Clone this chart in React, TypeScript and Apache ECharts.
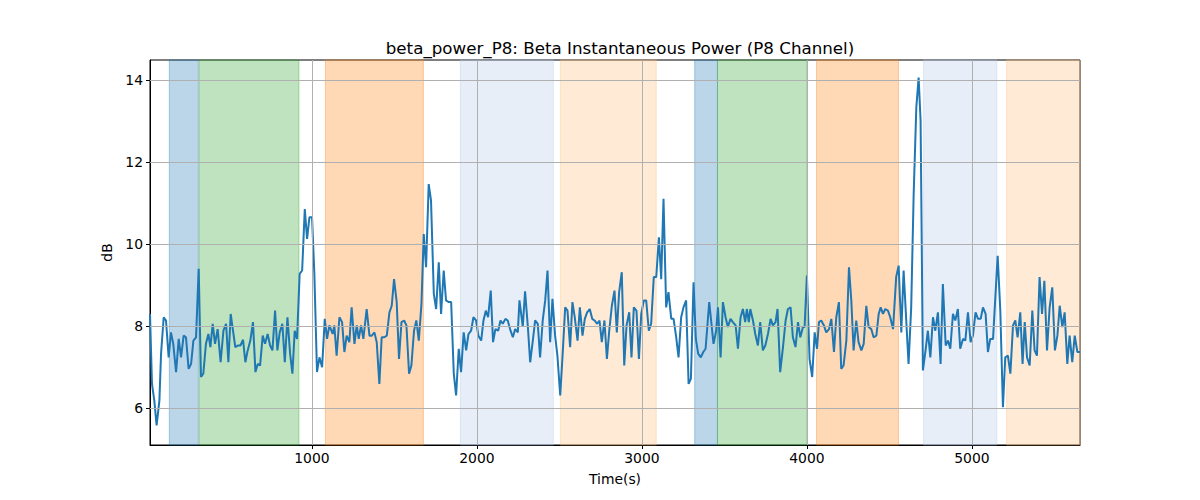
import React, { useEffect, useRef } from "react";
import * as echarts from "echarts";

const TITLE = "beta_power_P8: Beta Instantaneous Power (P8 Channel)";
const X_NAME = "Time(s)";
const Y_NAME = "dB";
const X_MIN = 19;
const X_MAX = 5655;
const Y_MIN = 5.1;
const Y_MAX = 14.5;
const X_TICKS = [1000, 2000, 3000, 4000, 5000];
const Y_TICKS = [6, 8, 10, 12, 14];

const TIMES = [
  19, 31, 45, 59, 76, 86, 102, 116, 132, 146, 160, 177, 193, 207, 223, 237, 253, 268, 282, 298,
  314, 328, 342, 358, 373, 385, 399, 413, 429, 447, 464, 480, 494, 508, 522, 536, 553, 567, 583, 597,
  611, 627, 643, 658, 672, 686, 702, 716, 732, 747, 761, 777, 791, 805, 821, 836, 852, 868, 882, 896,
  910, 926, 941, 957, 971, 985, 1001, 1015, 1031, 1046, 1062, 1078, 1092, 1106,
  1126, 1136, 1150, 1167, 1183, 1197, 1211, 1227, 1241, 1258, 1272, 1284, 1298, 1312, 1332, 1349, 1363, 1379, 1393, 1409,
  1423, 1439, 1454, 1470, 1484, 1498, 1514, 1528, 1543, 1559, 1573, 1589, 1603, 1619, 1633, 1648, 1664, 1678, 1692, 1708,
  1722, 1739, 1753, 1769, 1783, 1799, 1813, 1830, 1844, 1860, 1874, 1890, 1904, 1920, 1935, 1949, 1965, 1979, 1995, 2009,
  2026, 2040, 2054, 2068, 2084, 2098, 2112, 2129, 2143, 2157, 2173, 2187, 2201, 2218, 2232, 2248,
  2258, 2278, 2292, 2309, 2323, 2339, 2353, 2369, 2383, 2399, 2414, 2428, 2444, 2458, 2474, 2488, 2505, 2521, 2535, 2549,
  2565, 2579, 2593, 2610, 2624, 2640, 2654, 2668, 2684, 2699, 2713, 2729, 2743, 2757, 2773, 2788, 2802, 2818, 2834, 2848,
  2862, 2878, 2893, 2907, 2923, 2937, 2951, 2967, 2982, 2996, 3012, 3026, 3042, 3056, 3072, 3087, 3103, 3117, 3131, 3147,
  3161, 3178, 3192, 3208, 3222, 3238, 3252, 3268, 3283, 3297, 3313, 3327, 3341, 3357, 3372, 3386,
  3408, 3434, 3450, 3461, 3477, 3491, 3507, 3521, 3537, 3551, 3568, 3582, 3598, 3612, 3626, 3636, 3648, 3657, 3673, 3687,
  3703, 3717, 3733, 3748, 3764, 3780, 3794, 3810, 3822, 3838, 3855, 3871, 3885, 3901, 3915, 3931, 3946, 3960, 3976, 3986,
  4000, 4016, 4032, 4047, 4061, 4073, 4087, 4103, 4117, 4134, 4148, 4164, 4178, 4194, 4208, 4222, 4239, 4255, 4269, 4283,
  4299, 4313, 4330, 4344, 4360, 4374, 4390, 4404, 4421, 4435, 4447, 4461, 4475, 4491, 4505, 4522,
  4541, 4556, 4572, 4586, 4602, 4616, 4632, 4647, 4663, 4677, 4689, 4703, 4719, 4733, 4748, 4764, 4778, 4794, 4810, 4824,
  4841, 4855, 4869, 4885, 4899, 4915, 4929, 4946, 4960, 4976, 4992, 5006, 5022, 5037, 5053, 5067, 5083, 5097, 5111, 5128,
  5142, 5156, 5172, 5188, 5202, 5218, 5233, 5249, 5263, 5277, 5293, 5307, 5320, 5334, 5350, 5366, 5380, 5394, 5410, 5425,
  5439, 5455, 5471, 5487, 5503, 5518, 5532, 5548, 5562, 5578, 5592, 5608, 5623, 5639, 5655,
];

const POWER = [
  8.30, 6.59, 6.19, 5.58, 6.19, 7.33, 8.22, 8.14, 7.24, 7.85, 7.57, 6.88, 7.69, 7.24, 7.77, 7.73, 6.96, 7.08, 7.65, 7.73,
  9.40, 6.76, 6.84, 7.57, 7.81, 7.49, 8.06, 7.57, 7.93, 7.12, 7.89, 8.06, 7.12, 8.30, 7.89, 7.49, 7.53, 7.53, 7.67, 7.12,
  7.41, 7.65, 8.10, 6.88, 7.08, 7.04, 7.77, 7.57, 7.81, 7.53, 7.41, 8.38, 7.41, 7.85, 8.06, 7.12, 8.22, 7.33, 6.84, 7.89,
  7.69, 9.28, 9.36, 10.86, 10.13, 10.66, 10.66, 9.28, 6.88, 7.24, 7.00, 8.18, 7.69, 8.02,
  7.81, 8.02, 7.28, 8.22, 8.10, 7.37, 7.77, 7.61, 8.46, 7.57, 8.02, 7.69, 8.02, 7.69, 8.42, 7.77, 7.77, 7.85, 7.61, 6.59,
  7.73, 7.73, 7.77, 8.34, 8.50, 9.15, 8.59, 7.20, 8.10, 8.14, 8.02, 6.84, 7.04, 7.89, 8.14, 7.65, 8.54, 10.25, 9.44, 11.47,
  11.07, 8.79, 8.42, 9.56, 8.30, 9.36, 8.63, 8.59, 8.59, 6.84, 6.31, 7.45, 6.88, 7.85, 7.41, 7.81, 7.89, 8.22, 8.14, 7.77,
  7.65, 8.14, 8.38, 8.22, 8.87, 7.61, 7.93, 7.89, 8.14, 8.06, 8.18, 8.14, 7.93, 7.73, 7.93, 7.85,
  8.63, 7.99, 8.85, 7.98, 7.12, 7.65, 8.14, 8.06, 7.24, 8.14, 8.63, 9.36, 7.61, 8.67, 7.77, 7.28, 6.31, 7.41, 8.46, 8.38,
  7.49, 8.59, 8.22, 7.65, 8.46, 7.77, 8.18, 8.34, 8.42, 8.18, 8.14, 8.06, 8.14, 7.61, 8.14, 7.20, 7.89, 8.50, 8.87, 7.85,
  8.83, 9.32, 7.04, 8.02, 8.34, 7.24, 8.46, 8.38, 7.20, 8.30, 8.63, 8.63, 7.89, 8.06, 9.20, 9.20, 10.17, 9.15, 11.11, 8.46,
  8.83, 8.18, 8.18, 7.73, 7.24, 8.22, 8.46, 8.63, 6.59, 6.72, 9.07, 7.69, 7.33, 7.24, 7.37, 7.45,
  8.59, 7.57, 7.89, 8.46, 7.24, 8.59, 8.22, 7.98, 8.18, 8.10, 8.02, 7.45, 8.22, 8.42, 8.10, 8.42, 8.10, 8.42, 8.14, 7.81,
  7.53, 8.10, 7.41, 7.53, 7.81, 8.18, 8.02, 8.10, 8.42, 6.88, 7.49, 8.14, 8.42, 8.46, 7.73, 7.49, 8.10, 7.73, 7.98, 7.98,
  9.24, 7.20, 6.76, 7.85, 7.45, 8.10, 8.14, 8.02, 7.85, 7.93, 8.18, 7.37, 8.22, 8.59, 6.96, 7.04, 7.65, 9.44, 8.63, 7.41,
  8.14, 7.61, 7.41, 7.57, 8.50, 7.98, 7.93, 7.73, 7.77, 8.30, 8.46, 8.30, 8.42, 8.38, 8.22, 7.93,
  9.20, 9.48, 7.85, 9.36, 8.14, 7.08, 8.46, 11.23, 13.34, 14.07, 13.02, 6.92, 7.41, 7.89, 7.24, 8.22, 7.89, 8.34, 7.08, 9.03,
  7.53, 7.65, 7.45, 8.30, 8.14, 8.42, 7.45, 7.69, 7.65, 8.34, 7.61, 7.77, 8.34, 8.18, 8.18, 8.46, 8.30, 7.37, 7.69, 7.69,
  8.71, 9.72, 8.38, 6.02, 7.24, 7.28, 6.84, 8.02, 8.14, 7.73, 8.34, 7.08, 8.10, 7.24, 7.04, 8.38, 7.41, 7.28, 9.20, 8.30,
  9.11, 7.41, 8.46, 8.95, 7.41, 7.77, 8.50, 7.98, 8.34, 7.08, 7.77, 7.12, 7.77, 7.37, 7.37,
];

const BAND_STARTS = [136, 318, 1082, 1900, 2506, 3320, 3458, 4058, 4707, 5210];
const BAND_ENDS = [312, 922, 1676, 2463, 3087, 3458, 4000, 4555, 5151, 5655];
const BAND_COLORS = [
  "31,119,180",
  "44,160,44",
  "255,127,14",
  "174,199,232",
  "255,187,120",
  "31,119,180",
  "44,160,44",
  "255,127,14",
  "174,199,232",
  "255,187,120",
];

const FONT = "DejaVu Sans";

export default function App() {
  const ref = useRef<HTMLDivElement>(null);

  useEffect(() => {
    if (!ref.current) return;
    const chart = echarts.init(ref.current, undefined, { renderer: "svg" });

    const lineData = TIMES.map((t, i) => [t, POWER[i]]);
    const bands = BAND_STARTS.map((s, i) => [
      {
        xAxis: s,
        itemStyle: {
          color: `rgba(${BAND_COLORS[i]},0.3)`,
          borderColor: `rgba(${BAND_COLORS[i]},0.35)`,
          borderWidth: 1,
        },
      },
      { xAxis: BAND_ENDS[i] },
    ]);

    const gridLines = [
      ...X_TICKS.map((v) => ({ xAxis: v })),
      ...Y_TICKS.map((v) => ({ yAxis: v })),
    ];

    chart.setOption({
      animation: false,
      backgroundColor: "#ffffff",
      title: {
        text: TITLE,
        left: 615,
        top: 34,
        textAlign: "center",
        textStyle: {
          fontFamily: FONT,
          fontSize: 16.7,
          fontWeight: "normal",
          color: "#000",
        },
      },
      grid: {
        left: 150,
        right: 120,
        top: 60,
        bottom: 55,
        show: true,
        borderColor: "#000",
        borderWidth: 1,
        backgroundColor: "transparent",
      },
      xAxis: {
        type: "value",
        min: X_MIN,
        max: X_MAX,
        name: X_NAME,
        nameLocation: "middle",
        nameGap: 27,
        nameTextStyle: { fontFamily: FONT, fontSize: 13.9, color: "#000" },
        axisLine: { show: true, onZero: false, lineStyle: { color: "#000", width: 1 } },
        axisTick: {
          show: true,
          length: 4,
          inside: false,
          customValues: X_TICKS,
          lineStyle: { color: "#000", width: 1 },
        },
        axisLabel: {
          customValues: X_TICKS,
          formatter: (v: number) => String(v),
          fontFamily: FONT,
          fontSize: 13.9,
          color: "#000",
          margin: 6,
          hideOverlap: false,
        },
        splitLine: { show: false },
      },
      yAxis: {
        type: "value",
        min: Y_MIN,
        max: Y_MAX,
        name: Y_NAME,
        nameLocation: "middle",
        nameGap: 32,
        nameRotate: 90,
        nameTextStyle: { fontFamily: FONT, fontSize: 13.9, color: "#000" },
        axisLine: { show: true, onZero: false, lineStyle: { color: "#000", width: 1 } },
        axisTick: {
          show: true,
          length: 4,
          inside: false,
          customValues: Y_TICKS,
          lineStyle: { color: "#000", width: 1 },
        },
        axisLabel: {
          customValues: Y_TICKS,
          formatter: (v: number) => String(v),
          fontFamily: FONT,
          fontSize: 13.9,
          color: "#000",
          margin: 7,
          hideOverlap: false,
        },
        splitLine: { show: false },
      },
      series: [
        {
          name: "bands",
          type: "line",
          data: [],
          z: 1,
          silent: true,
          markArea: { silent: true, data: bands },
        },
        {
          name: "grid",
          type: "line",
          data: [],
          z: 2,
          silent: true,
          markLine: {
            silent: true,
            symbol: ["none", "none"],
            label: { show: false },
            lineStyle: { color: "#b0b0b0", width: 1, type: "solid" },
            data: gridLines,
          },
        },
        {
          name: "beta",
          type: "line",
          data: lineData,
          z: 3,
          showSymbol: false,
          symbol: "none",
          lineStyle: { color: "#1f77b4", width: 2 },
          itemStyle: { color: "#1f77b4" },
        },
      ],
    });

    return () => chart.dispose();
  }, []);

  return (
    <div
      ref={ref}
      style={{ position: "absolute", left: 0, top: 0, width: 1200, height: 500 }}
    />
  );
}
